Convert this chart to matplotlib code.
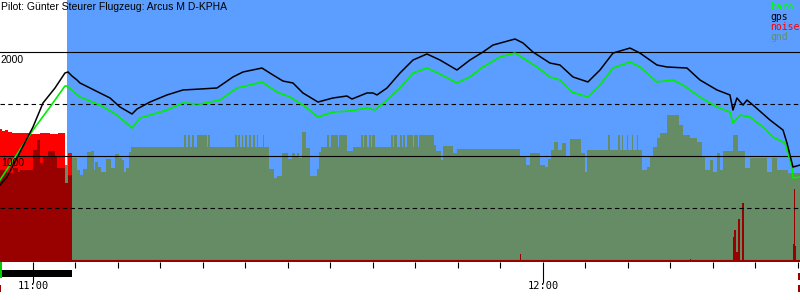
import matplotlib.pyplot as plt
from matplotlib.patches import Rectangle
from matplotlib.ticker import FixedLocator, MultipleLocator

# time in minutes after 11:00, altitude in metres
gps_t = [-3.88, -3.06, -1.53, 0, 1.18, 2.59, 3.76, 4.12, 4.59, 5.18, 5.53, 6.71, 7.88, 9.06,
         10.24, 11.65, 12.24, 13.76, 15.76, 17.65, 19.65, 21.65, 23.53, 24.71, 26.94, 28.24,
         29.41, 30.59, 31.76, 33.53, 35.29, 36.94, 37.53, 39.29, 40.0, 40.47, 41.65, 43.18,
         44.71, 46.35, 47.88, 49.88, 51.41, 52.94, 54.12, 56.71, 57.65, 58.82, 60.82, 62.0,
         63.53, 65.29, 66.71, 68.24, 70.24, 71.41, 73.41, 74.59, 76.94, 78.47, 80.47, 82.0,
         82.35, 82.82, 83.53, 84.0, 84.71, 86.71, 88.24, 88.71, 89.41, 90.24]
gps_alt = [721, 798, 1038, 1279, 1510, 1654, 1798, 1808, 1769, 1731, 1702, 1654, 1606, 1558,
           1471, 1404, 1452, 1519, 1587, 1635, 1644, 1654, 1760, 1808, 1846, 1779,
           1721, 1702, 1606, 1519, 1558, 1577, 1548, 1606, 1606, 1587, 1654, 1798,
           1923, 1981, 1923, 1827, 1923, 2000, 2067, 2125, 2087, 2000, 1894, 1875,
           1760, 1712, 1827, 1990, 2038, 1990, 1875, 1856, 1846, 1731, 1635, 1587,
           1442, 1558, 1490, 1538, 1490, 1346, 1250, 1125, 894, 913]

baro_t = [-3.88, 0, 2.0, 3.76, 4.0, 5.53, 7.88, 9.88, 11.65, 12.59, 15.76, 17.65, 19.65, 22.0,
          24.0, 25.53, 26.94, 28.71, 30.24, 31.76, 33.53, 35.29, 37.29, 39.29, 40.24, 41.65,
          43.18, 44.71, 46.35, 47.88, 49.88, 51.41, 52.94, 54.94, 56.71, 57.65, 59.29, 60.82,
          62.0, 63.41, 65.29, 66.71, 68.24, 70.24, 71.41, 73.41, 75.29, 76.47, 78.47, 80.47,
          82.0, 82.35, 83.18, 84.35, 85.88, 87.06, 88.47, 89.29, 89.41, 90.24]
baro_alt = [769, 1250, 1471, 1673, 1673, 1567, 1490, 1394, 1269, 1365, 1442, 1510, 1500, 1538,
            1654, 1683, 1712, 1615, 1567, 1490, 1375, 1423, 1433, 1462, 1442, 1538,
            1654, 1798, 1846, 1788, 1702, 1760, 1856, 1952, 1990, 1942, 1856, 1760,
            1731, 1615, 1567, 1683, 1846, 1904, 1856, 1712, 1731, 1683, 1567, 1471,
            1423, 1317, 1394, 1375, 1279, 1183, 1125, 894, 788, 798]

gnd_t = [3.76, 4.59, 5.18, 5.53, 5.88, 6.35, 6.82, 7.18, 7.29, 7.65, 8.0, 8.59, 9.18, 9.65,
         10.12, 10.47, 10.71, 10.94, 11.29, 11.53, 17.76, 18.0, 18.24, 18.47, 18.71, 18.94,
         19.29, 20.47, 20.59, 20.82, 23.76, 24.0, 24.12, 24.35, 24.59, 24.71, 24.94, 25.18,
         25.41, 25.65, 25.88, 26.12, 26.35, 26.47, 27.06, 27.18, 27.76, 28.35, 28.71, 29.29,
         30.0, 30.47, 30.82, 31.06, 31.29, 31.65, 32.12, 32.59, 33.41, 33.65, 33.88, 34.59,
         34.82, 35.06, 35.88, 36.0, 36.94, 37.65, 38.59, 38.82, 38.94, 39.29, 39.53, 39.76,
         39.88, 40.24, 42.12, 42.35, 42.47, 42.82, 43.18, 43.41, 43.53, 43.76, 44.0, 44.71,
         44.82, 45.29, 45.41, 47.18, 47.41, 48.0, 48.24, 49.41, 49.88, 57.29, 58.0, 58.47,
         59.65, 60.24, 60.59, 60.94, 61.29, 61.76, 62.24, 62.71, 63.18, 64.47, 64.94, 65.18,
         67.65, 67.88, 68.82, 69.06, 69.29, 69.41, 69.88, 70.0, 70.47, 70.59, 71.06, 71.18,
         71.65, 72.24, 72.59, 72.94, 73.41, 73.76, 74.59, 76.0, 76.47, 77.29, 78.12, 78.71,
         79.06, 79.65, 80.0, 80.47, 80.82, 81.18, 82.35, 82.94, 83.76, 84.35, 86.35, 86.94,
         87.53, 88.82, 90.24]
gnd_alt = [913, 981, 865, 817, 875, 1038, 1048, 865, 942, 894, 846, 971, 885, 1019,
           981, 962, 846, 885, 1038, 1087, 1202, 1087, 1202, 1087, 1202, 1087,
           1202, 1087, 1202, 1087, 1202, 1087, 1202, 1087, 1202, 1087, 1202, 1087,
           1202, 1087, 1202, 1087, 1202, 1087, 1202, 1087, 875, 788, 808, 1029,
           971, 1029, 990, 1029, 981, 1231, 1077, 808, 875, 1038, 1087, 1202,
           1087, 1202, 1087, 1202, 1048, 1087, 1202, 1087, 1202, 1087, 1202, 1087,
           1202, 1087, 1202, 1087, 1202, 1087, 1202, 1087, 1202, 1087, 1202, 1087,
           1202, 1087, 1202, 1106, 1048, 962, 1096, 1029, 1067, 990, 913, 1029,
           913, 894, 971, 1058, 1135, 1058, 1125, 1000, 1163, 1029, 846, 1058,
           1202, 1058, 1202, 1058, 1202, 1058, 1202, 1058, 1202, 1058, 1202, 1058,
           865, 894, 990, 1087, 1173, 1221, 1394, 1298, 1202, 1173, 1135, 990,
           865, 962, 846, 1029, 865, 1048, 1202, 1048, 885, 981, 846, 981,
           865, 837, 837]

noise_t = [-3.88, -3.65, -3.29, -2.94, -2.47, -0.35, 0.82, 2.0, 2.94, 3.76, 4.12, 4.59]
noise_alt = [1260, 1240, 1250, 1231, 1221, 1212, 1221, 1212, 1221, 0, 1029, 0]

noise_dark_t = [-3.88, -3.06, -2.35, -1.76, -1.53, 0, 0.47, 0.82, 1.18, 1.76, 2.59, 2.82,
                3.76, 4.12, 4.59, 57.29, 57.41, 77.29, 77.41, 82.32, 82.47, 82.71, 82.98,
                83.18, 83.41, 83.65, 89.38, 89.53, 89.61, 89.76]
noise_dark_alt = [865, 837, 885, 846, 865, 1058, 1154, 933, 990, 1048, 990, 885,
                  740, 817, 0, 58, 0, 10, 0, 221, 288, 77, 394,
                  0, 548, 0, 154, 683, 135, 0]

engine_on = (-3.88, 4.59)
tow_release = 4.0

t_min, t_max = -3.88, 90.24

blue = "#5c9eff"
olive = "#668c66"
dark_red = "#990000"
green = "#00ee00"

fig = plt.figure(figsize=(8, 3), dpi=100)
ax = fig.add_axes([0, 38 / 300, 1, 262 / 300])
ax.set_xlim(t_min, t_max)
ax.set_ylim(-19, 2500)
for s in ax.spines.values():
    s.set_visible(False)

ax.axvspan(tow_release, t_max, color=blue, lw=0, zorder=0)

ax.fill_between(gnd_t, gnd_alt, step="post", color=olive, lw=0, zorder=1)
ax.fill_between(noise_t, noise_alt, step="post", color="#ff0000", lw=0, zorder=2)
ax.fill_between(noise_dark_t, noise_dark_alt, step="post", color=dark_red, lw=0, zorder=3)
ax.axhline(-8, color=dark_red, lw=1.5, zorder=3)

for level in (1000, 2000):
    ax.axhline(level, color="black", lw=0.8, zorder=4)
for level in (500, 1500):
    ax.axhline(level, color="black", lw=0.8, ls=(0, (4, 3)), zorder=4)

ax.plot(baro_t, baro_alt, color=green, lw=1.2, zorder=5)
ax.plot(gps_t, gps_alt, color="black", lw=1.1, zorder=6)

txt = dict(family="Liberation Sans", fontsize=7.5, color="black")
ytr = ax.get_yaxis_transform()
ax.text(0.001, 1975, "2000", transform=ytr, va="top", ha="left", zorder=7, **txt)
ax.text(0.001, 980, "1000", transform=ytr, va="top", ha="left", zorder=7, **txt)
fig.text(0.001, 0.993, "Pilot: Günter Steurer Flugzeug: Arcus M D-KPHA", va="top", ha="left", **txt)

legend = [("baro", "#00ff00"), ("gps", "black"), ("noise", "#ff0000"), ("gnd", olive)]
for i, (name, col) in enumerate(legend):
    fig.text(770 / 800, 1 - (2 + 10 * i) / 300, name, color=col, va="top", ha="left",
             family="DejaVu Sans Mono", fontsize=7)

# ticks: major on the hour, minor every 5 minutes
ax.xaxis.set_major_locator(FixedLocator([0, 60]))
ax.xaxis.set_minor_locator(MultipleLocator(5))
ax.set_xticklabels(["11:00", "12:00"], family="DejaVu Sans Mono", fontsize=7.5)
ax.tick_params(axis="x", which="major", direction="out", length=15, width=0.8, pad=-1)
ax.tick_params(axis="x", which="minor", direction="out", length=4.5, width=0.8)
ax.set_yticks([])

xtr = ax.get_xaxis_transform()
ax.add_patch(Rectangle((engine_on[0], -15 / 262), engine_on[1] - engine_on[0], 7 / 262,
                       transform=xtr, color="black", lw=0, clip_on=False))
ax.add_patch(Rectangle((t_min, -16 / 262), 0.25, 16 / 262, transform=xtr, color="#00cc00",
                       lw=0, clip_on=False))
ax.add_patch(Rectangle((t_min, -30 / 262), 0.12, 7 / 262, transform=xtr, color=dark_red,
                       lw=0, clip_on=False))
ax.add_patch(Rectangle((t_max - 0.25, -18 / 262), 0.25, 7 / 262, transform=xtr, color=dark_red,
                       lw=0, clip_on=False))
ax.add_patch(Rectangle((t_max - 0.25, -30 / 262), 0.25, 7 / 262, transform=xtr, color=dark_red,
                       lw=0, clip_on=False))

fig.savefig("out.png", dpi=100)
